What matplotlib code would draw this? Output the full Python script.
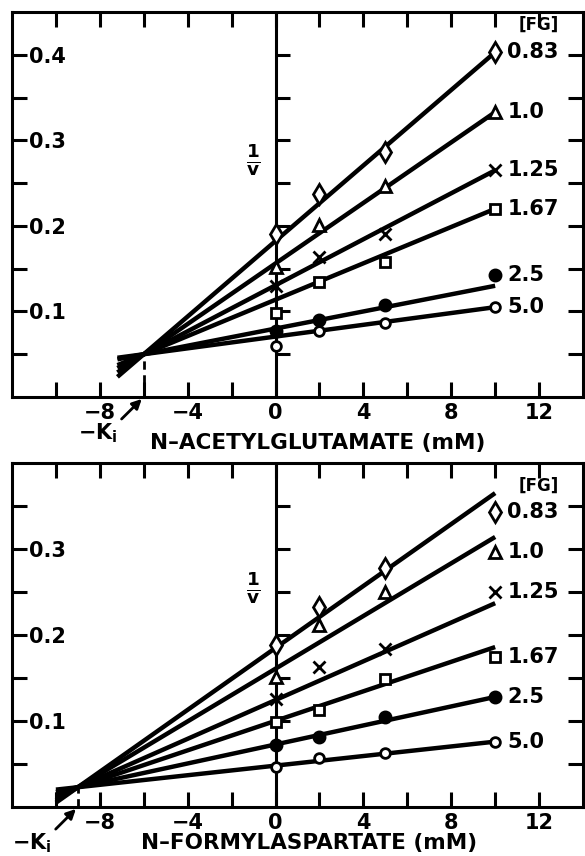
import numpy as np
import matplotlib
matplotlib.use("Agg")
import matplotlib.pyplot as plt

plt.rcParams['font.family'] = ['DejaVu Sans']
plt.rcParams['font.weight'] = 'bold'
plt.rcParams['mathtext.fontset'] = 'dejavusans'

# inhibitor concentrations (mM)
x_conc = [0, 2, 5, 10]
fg_labels = ['0.83', '1.0', '1.25', '1.67', '2.5', '5.0']

# top panel: N-acetylglutamate, 1/v
ag_083 = [0.191, 0.237, 0.286, 0.403]
ag_10 = [0.152, 0.201, 0.247, 0.333]
ag_125 = [0.130, 0.164, 0.191, 0.265]
ag_167 = [0.098, 0.134, 0.158, 0.220]
ag_25 = [0.077, 0.090, 0.108, 0.143]
ag_50 = [0.060, 0.077, 0.087, 0.105]
ag_line_end = [0.403, 0.333, 0.265, 0.220, 0.130, 0.105]
ag_ki = -6.0
ag_cross = 0.050

# bottom panel: N-formylaspartate, 1/v
fa_083 = [0.188, 0.233, 0.278, 0.343]
fa_10 = [0.151, 0.212, 0.250, 0.297]
fa_125 = [0.126, 0.163, 0.184, 0.250]
fa_167 = [0.099, 0.113, 0.149, 0.174]
fa_25 = [0.072, 0.081, 0.105, 0.128]
fa_50 = [0.047, 0.057, 0.063, 0.076]
fa_line_end = [0.365, 0.314, 0.237, 0.186, 0.128, 0.076]
fa_ki = -9.0
fa_cross = 0.023

styles = [
    dict(marker='d', mfc='white', ms=10),
    dict(marker='^', mfc='white', ms=8),
    dict(marker='x', ms=8),
    dict(marker='s', mfc='white', ms=7),
    dict(marker='o', mfc='black', ms=8),
    dict(marker='o', mfc='white', ms=7),
]

fig = plt.figure(figsize=(5.85, 8.56), dpi=100)
ax1 = fig.add_axes([12 / 585, 1 - 397 / 856, 571 / 585, 385 / 856])
ax2 = fig.add_axes([12 / 585, 1 - 807 / 856, 571 / 585, 344 / 856])


def panel(ax, series, line_end, ki, cross, x_start, ymax, xlabel, label_xy, oneover_y, fg_y):
    ax.set_xlim(-12, 14)
    ax.set_ylim(0, ymax)
    for sp in ax.spines.values():
        sp.set_linewidth(2.2)

    # fitted lines through the common crossing point
    for ye in line_end:
        slope = (ye - cross) / (10 - ki)
        xs = np.array([x_start, 10])
        ax.plot(xs, cross + slope * (xs - ki), color='black', lw=3.2, solid_capstyle='butt', zorder=2)

    for ys, st in zip(series, styles):
        ax.plot(x_conc, ys, ls='none', mec='black', mew=2, zorder=3, **st)

    for ys, lab in zip(series, fg_labels):
        ax.text(10.55, ys[-1], lab, fontsize=15, va='center', ha='left')
    ax.text(12.0, fg_y, '[FG]', fontsize=12, va='center', ha='center')

    # y axis drawn at x = 0
    yt = np.arange(0.05, ymax - 0.001, 0.05)
    ax.axvline(0, color='black', lw=2.2, zorder=1)
    ax.plot(np.zeros(len(yt)), yt, ls='none', marker=1, ms=10, mew=2.2, color='black')
    ax.text(-1.0, oneover_y, r'$\mathbf{\frac{1}{v}}$', fontsize=19, ha='center', va='center')

    # dashed drop line to -Ki
    ax.plot([ki, ki], [0, cross], color='black', lw=2, ls=(0, (3, 2)))
    ax.annotate('', xy=(ki, 0), xytext=(ki - 1.1, -0.028), annotation_clip=False,
                arrowprops=dict(arrowstyle='-|>', color='black', lw=2, mutation_scale=14))
    ax.text(ki - 2.1, -0.042, r'$\mathbf{-K_i}$', fontsize=15, ha='center', va='center',
            clip_on=False)

    ax.set_yticks(yt)
    ax.set_yticklabels([f'{t:.1f}' if round(t * 20) % 2 == 0 else '' for t in yt])
    ax.tick_params(axis='y', direction='in', length=11, width=2.2, pad=-12,
                   labelsize=15, right=True)
    for lbl in ax.get_yticklabels():
        lbl.set_horizontalalignment('left')
    ax.set_xticks([-8, -4, 0, 4, 8, 12])
    ax.set_xticklabels(['\u22128', '\u22124', '0', '4', '8', '12'])
    ax.set_xticks(np.arange(-10, 13, 2), minor=True)
    ax.tick_params(axis='x', which='both', direction='in', length=11, width=2.2,
                   top=True, labelsize=15, pad=4)
    ax.set_xlabel(xlabel, fontsize=15.5, fontweight='bold', va='center')
    ax.xaxis.set_label_coords(*label_xy)


panel(ax1, [ag_083, ag_10, ag_125, ag_167, ag_25, ag_50], ag_line_end, ag_ki, ag_cross,
      -7.2, 0.45, 'N\u2013ACETYLGLUTAMATE (mM)', (0.535, -0.119), 0.278, 0.435)
panel(ax2, [fa_083, fa_10, fa_125, fa_167, fa_25, fa_50], fa_line_end, fa_ki, fa_cross,
      -10.0, 0.40, 'N\u2013FORMYLASPARTATE (mM)', (0.52, -0.105), 0.255, 0.374)

fig.savefig('out.png', dpi=100)
